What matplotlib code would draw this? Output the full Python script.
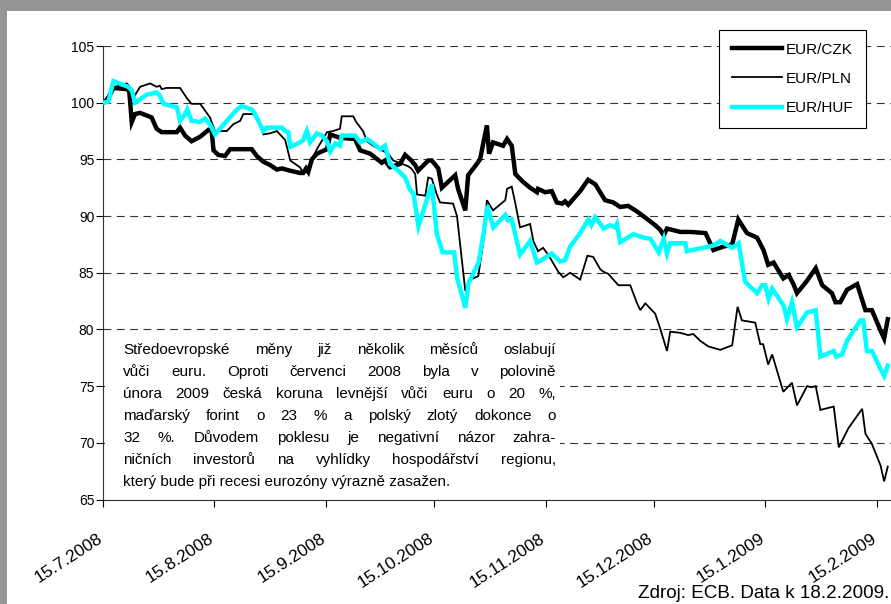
import datetime as dt
import matplotlib
matplotlib.use('Agg')
import matplotlib.pyplot as plt
import matplotlib.dates as mdates
from matplotlib.patches import Rectangle
from matplotlib.transforms import ScaledTranslation

# Kurzy vuci euru, index 15.7.2008 = 100 (x = dny od 15.7.2008)
start = dt.date(2008, 7, 15)

czk_days = [0, 1.1, 3.0, 6.7, 7.4, 8.1, 9.0, 10.4, 13.6, 15.0,
            16.4, 20.6, 21.5, 22.9, 24.7, 27.1, 29.4, 30.3, 30.8, 32.1,
            34.0, 35.4, 41.4, 42.8, 44.6, 46.5, 48.4, 49.8, 52.1, 54.8,
            55.7, 56.5, 57.1, 58.1, 59.5, 62.3, 63.2, 65.9, 70.1, 71.5,
            74.3, 77.5, 78.4, 79.8, 82.6, 84.0, 85.4, 86.8, 87.6, 90.4,
            91.4, 93.2, 94.2, 97.9, 98.7, 100.7, 101.5, 103.9, 104.8, 106.7,
            107.3, 108.4, 111.2, 112.3, 113.6, 114.6, 116.8, 118.7, 120.6, 120.9,
            122.9, 124.7, 126.1, 127.6, 128.4, 129.3, 132.6, 134.8, 136.8, 139.5,
            141.8, 143.7, 145.9, 148.4, 150.1, 153.4, 154.8, 155.8, 156.7, 160.4,
            163.2, 167.4, 169.6, 172.3, 174.8, 176.5, 178.9, 181.7, 183.5, 184.8,
            186.3, 189.0, 190.5, 191.8, 192.8, 195.6, 198.0, 199.8, 202.5, 203.5,
            204.8, 206.7, 209.5, 211.8, 213.6, 216, 217, 218]
czk_vals = [100, 100.1, 101.3, 101.2, 101.0, 98.3, 99.0, 99.1, 98.7, 97.7,
            97.4, 97.4, 97.8, 97.1, 96.6, 97.0, 97.6, 97.5, 95.8, 95.4,
            95.3, 95.9, 95.9, 95.3, 94.8, 94.5, 94.1, 94.2, 94.0, 93.8,
            93.8, 94.2, 93.9, 95.0, 95.5, 95.9, 97.2, 96.9, 96.8, 95.8,
            95.5, 94.7, 94.9, 94.3, 94.6, 95.4, 95.0, 94.5, 94.0, 94.9,
            94.9, 94.2, 92.5, 93.6, 92.4, 90.5, 93.6, 94.6, 95.0, 98.0,
            95.5, 96.5, 96.2, 96.8, 96.2, 93.7, 93.0, 92.5, 92.1, 92.4,
            92.1, 92.2, 91.2, 91.1, 91.3, 91.0, 92.2, 93.2, 92.8, 91.4,
            91.2, 90.8, 90.9, 90.4, 90.0, 89.2, 88.8, 88.3, 88.9, 88.6,
            88.6, 88.5, 87.0, 87.3, 87.5, 89.7, 88.5, 88.1, 87.0, 85.7,
            85.9, 84.5, 84.8, 84.0, 83.2, 84.3, 85.4, 83.9, 83.2, 82.4,
            82.4, 83.5, 84.0, 81.7, 81.7, 79.9, 79.2, 80.9]

pln_days = [0, 3.4, 6.7, 7.6, 8.5, 10.4, 13.2, 15.0, 15.9, 16.4,
            17.8, 21.5, 23.4, 24.7, 27.1, 29.8, 31.2, 34.5, 36.3, 38.2,
            39.1, 41.9, 43.7, 44.6, 46.5, 48.4, 50.7, 52.1, 54.8, 55.7,
            56.7, 59.5, 62.3, 64.0, 65.9, 66.4, 69.6, 70.4, 72.3, 73.4,
            75.1, 79.3, 80.7, 84.8, 85.7, 86.8, 87.3, 89.6, 90.4, 91.4,
            92.8, 93.7, 97.3, 98.4, 100.7, 102.1, 104.3, 105.7, 106.7, 108.4,
            111.8, 112.3, 113.6, 114.6, 115.9, 118.7, 119.6, 120.9, 122.3, 123.7,
            126.5, 127.9, 129.8, 132.6, 134.6, 136.2, 138.2, 139.0, 140.4, 143.2,
            146.5, 148.4, 149.3, 150.7, 153.4, 154.8, 156.7, 157.6, 160.4, 162.6,
            164.0, 165.9, 168.2, 171.5, 174.8, 176.3, 177.5, 181.2, 182.6, 183.4,
            184.8, 185.9, 189.0, 191.4, 192.8, 195.6, 196.8, 198.0, 199.3, 203.0,
            204.4, 207.1, 210.9, 211.8, 213.6, 216, 217, 218]
pln_vals = [100, 101.4, 101.7, 101.4, 100.4, 101.4, 101.7, 101.4, 101.5, 101.2,
            101.3, 101.3, 100.4, 99.9, 99.9, 98.7, 97.5, 97.5, 98.1, 98.4,
            99.0, 99.0, 98.1, 97.2, 97.3, 97.5, 96.7, 94.9, 94.3, 93.8,
            94.1, 95.9, 97.4, 97.5, 97.7, 98.8, 98.8, 98.3, 97.5, 96.6,
            96.2, 95.5, 94.9, 94.4, 94.2, 93.7, 91.9, 91.8, 93.4, 93.3,
            91.9, 91.2, 91.1, 90.0, 83.4, 84.4, 84.7, 87.7, 91.4, 90.5,
            91.4, 92.4, 92.6, 91.1, 89.0, 89.3, 87.8, 86.9, 87.2, 86.6,
            85.1, 84.6, 85.0, 84.4, 86.5, 86.4, 85.3, 85.1, 84.9, 83.9,
            83.9, 82.3, 81.7, 82.3, 81.4, 80.1, 78.1, 79.8, 79.7, 79.5,
            79.6, 79.0, 78.5, 78.2, 78.6, 82.0, 80.8, 80.6, 78.7, 78.7,
            76.9, 77.8, 74.5, 75.3, 73.3, 75.0, 74.9, 75.0, 72.9, 73.2,
            69.6, 71.3, 73.0, 70.8, 69.9, 68.0, 66.6, 67.9]

huf_days = [0, 1.6, 3.0, 7.1, 8.1, 9.0, 10.4, 12.2, 15.0, 15.9,
            16.9, 19.2, 20.6, 21.5, 22.9, 23.5, 24.7, 27.1, 28.4, 29.8,
            31.2, 34.5, 37.3, 38.6, 41.4, 42.3, 43.7, 44.6, 45.6, 49.8,
            50.7, 51.6, 52.1, 54.8, 55.7, 56.7, 57.6, 59.5, 60.9, 62.3,
            63.2, 64.6, 65.9, 66.4, 70.1, 71.5, 73.4, 74.8, 77.1, 78.4,
            79.8, 82.1, 84.0, 85.4, 86.3, 87.7, 91.4, 92.8, 94.4, 97.6,
            98.4, 100.7, 101.6, 104.4, 105.8, 106.8, 108.5, 111.8, 112.6, 113.6,
            115.9, 118.7, 120.6, 122.3, 124.7, 127.0, 128.4, 129.8, 132.6, 134.9,
            135.7, 136.8, 139.1, 140.9, 142.3, 142.8, 143.7, 147.4, 150.2, 152.1,
            154.4, 155.8, 156.7, 157.6, 161.8, 162.2, 168.2, 169.6, 171.5, 174.8,
            176.6, 178.4, 181.7, 183.1, 184.0, 184.9, 185.9, 189.1, 190.0, 191.4,
            192.8, 195.6, 198.0, 199.3, 203.0, 203.7, 205.3, 206.7, 210.4, 211.2,
            212.2, 213.6, 216, 217, 218]
huf_vals = [100, 100.1, 101.9, 101.4, 101.1, 100.0, 100.3, 100.7, 100.9, 100.6,
            99.9, 99.7, 99.6, 98.4, 99.0, 99.4, 98.4, 98.3, 98.6, 98.1,
            97.2, 98.4, 99.4, 99.7, 99.4, 99.0, 98.1, 97.5, 97.8, 97.8,
            97.5, 97.4, 96.1, 96.5, 96.7, 97.5, 96.5, 97.3, 97.1, 96.6,
            95.7, 96.4, 96.2, 97.1, 97.1, 96.5, 96.8, 96.5, 95.9, 96.2,
            94.6, 94.0, 93.4, 92.3, 92.0, 89.1, 92.8, 88.4, 86.8, 86.8,
            84.6, 81.9, 84.1, 85.9, 88.5, 90.9, 89.0, 90.1, 89.6, 89.7,
            86.6, 87.8, 85.9, 86.2, 86.7, 86.0, 86.1, 87.3, 88.5, 89.7,
            89.2, 89.9, 88.9, 89.2, 89.0, 89.3, 87.7, 88.4, 88.1, 88.0,
            86.8, 88.0, 86.7, 87.6, 87.6, 86.9, 87.3, 87.4, 87.8, 87.2,
            87.6, 84.2, 83.2, 83.9, 83.9, 82.7, 83.6, 82.1, 80.9, 82.4,
            80.2, 81.5, 81.7, 77.6, 78.1, 77.6, 77.8, 79.0, 80.8, 80.8,
            78.1, 78.1, 76.5, 75.9, 76.8]

tick_labels = ['15.7.2008', '15.8.2008', '15.9.2008', '15.10.2008',
               '15.11.2008', '15.12.2008', '15.1.2009', '15.2.2009']
legend_labels = ['EUR/CZK', 'EUR/PLN', 'EUR/HUF']
note_lines = [
    'Středoevropské měny již několik měsíců oslabují',
    'vůči euru. Oproti červenci 2008 byla v polovině',
    'února 2009 česká koruna levnější vůči euru o 20 %,',
    'maďarský forint o 23 % a polský zlotý dokonce o',
    '32 %. Důvodem poklesu je negativní názor zahra-',
    'ničních investorů na vyhlídky hospodářství regionu,',
    'který bude při recesi eurozóny výrazně zasažen.',
]
source = 'Zdroj: ECB. Data k 18.2.2009.'

plt.rcParams['font.family'] = ['Liberation Sans', 'DejaVu Sans']

W, H = 891, 604
fig = plt.figure(figsize=(W / 100, H / 100), dpi=100)

# sedy ramecek nahore a vlevo
fig.patches.append(Rectangle((0, 1 - 11 / H), 1, 11 / H, transform=fig.transFigure,
                             facecolor='#969696', edgecolor='none', zorder=0))
fig.patches.append(Rectangle((0, 0), 7 / W, 1, transform=fig.transFigure,
                             facecolor='#969696', edgecolor='none', zorder=0))

ax = fig.add_axes([102.6 / W, 1 - 499.5 / H, 1 - 102.6 / W, (499.5 - 46) / H])
ax.set_facecolor('none')
x0 = mdates.date2num(start)

series = [(czk_days, czk_vals, 'black', 3.2),
          (pln_days, pln_vals, 'black', 1.3),
          (huf_days, huf_vals, '#00FFFF', 3.2)]
handles = []
for (days, vals, col, lw), lab in zip(series, legend_labels):
    ln, = ax.plot([x0 + d for d in days], vals, color=col, lw=lw,
                  solid_joinstyle='miter', label=lab, zorder=3)
    handles.append(ln)

ax.set_ylim(65, 105)
ax.set_yticks(range(65, 106, 5))
ax.set_xlim(x0, x0 + 218.9)
ticks = [mdates.date2num(dt.datetime.strptime(t, '%d.%m.%Y')) for t in tick_labels]
ax.set_xticks(ticks)
ax.set_xticklabels(tick_labels, rotation=33, ha='right', va='center',
                   rotation_mode='anchor', fontsize=12.5)
ax.tick_params(axis='x', direction='out', length=5, width=0.8, pad=22)
ax.tick_params(axis='y', direction='out', length=5, width=0.8, pad=1, labelsize=10)
shift = ScaledTranslation(-2 / 100, 0, fig.dpi_scale_trans)
for lbl in ax.get_xticklabels():
    lbl.set_transform(lbl.get_transform() + shift)
ax.yaxis.grid(True, color='#333333', lw=0.8, ls=(0, (7, 5)))
ax.set_axisbelow(True)
for s in ['top', 'right']:
    ax.spines[s].set_visible(False)
for s in ['left', 'bottom']:
    ax.spines[s].set_color('#333333')
    ax.spines[s].set_linewidth(0.8)

leg = ax.legend(handles=handles, loc='upper right', bbox_to_anchor=(866 / W, 1 - 30 / H),
                bbox_transform=fig.transFigure, fancybox=False, edgecolor='black',
                framealpha=1, borderaxespad=0, handlelength=3.3, handletextpad=0.25,
                labelspacing=1.0, borderpad=0.82, fontsize=11)
leg.get_frame().set_linewidth(0.8)

# bily ramecek s komentarem
fig.patches.append(Rectangle((105 / W, 1 - 497.5 / H), 455 / W, 162 / H,
                             transform=fig.transFigure, facecolor='white',
                             edgecolor='none', zorder=1))

fs = 11.0
r = fig.canvas.get_renderer()
left, right = 123, 556
for i, line in enumerate(note_lines):
    y = 1 - (354 + 22 * i) / H
    if i == len(note_lines) - 1:
        fig.text(left / W, y, line, fontsize=fs, va='baseline')
        continue
    words = line.split(' ')
    texts = [fig.text(0, y, w, fontsize=fs, va='baseline') for w in words]
    widths = [t.get_window_extent(r).width for t in texts]
    gap = (right - left - sum(widths)) / (len(words) - 1)
    x = left
    for t, w in zip(texts, widths):
        t.set_x(x / W)
        x += w + gap

fig.text(889 / W, 1 - 593 / H, source, ha='right', va='center', fontsize=13.6)

fig.savefig('out.png', dpi=100)
